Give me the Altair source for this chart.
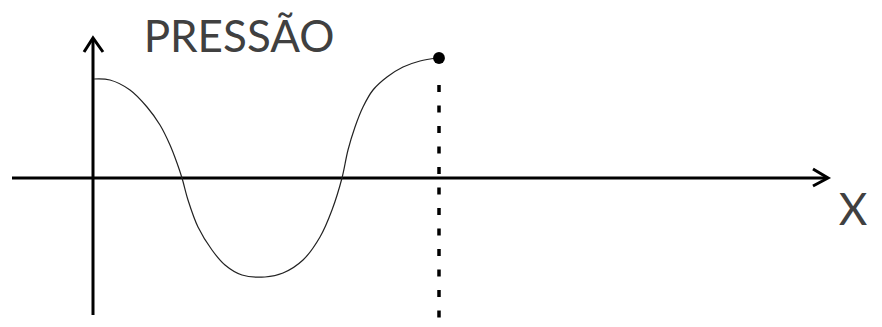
import altair as alt
import pandas as pd

# pressure curve (x: distance from the vertical axis, y: height above the x axis)
curve_x = [1, 17, 37, 54, 67, 77, 84, 89, 95, 105, 119, 132, 149, 172, 190, 210, 227, 239, 249, 255, 262, 270, 280, 294, 310, 327, 344]
curve_y = [99, 98, 88, 71, 53, 33, 15, 0, -22, -49, -72, -87, -97, -99, -95, -82, -59, -32, 0, 28, 51, 71, 88, 101, 111, 117, 120]

# end point of the wave
end_x = [346]
end_y = [120]

# dashed guide below the end point
guide_x = [346, 346]
guide_y = [93, -141]

# axes (with open arrowheads)
axis_group = ["y", "y", "x", "x", "ya", "ya", "ya", "xa", "xa", "xa"]
axis_x = [0, 0, -81, 734, -9, 0, 10, 720, 735, 720]
axis_y = [-137, 139, 0, 0, 126, 140, 126, 9, 0, -8]

# labels
label_text = ["PRESSÃO", "X"]
label_x = [146, 760]
label_y = [126, -47]
label_size = [44, 44]

W, H = 866, 311
xs = alt.Scale(domain=[-85, 781], nice=False, zero=False)
ys = alt.Scale(domain=[-141, 170], nice=False, zero=False)

axes_df = pd.DataFrame({"g": axis_group, "x": axis_x, "y": axis_y, "i": list(range(len(axis_x)))})
curve_df = pd.DataFrame({"x": curve_x, "y": curve_y})
end_df = pd.DataFrame({"x": end_x, "y": end_y})
guide_df = pd.DataFrame({"x": guide_x, "y": guide_y, "i": [0, 1]})
label_df = pd.DataFrame({"t": label_text, "x": label_x, "y": label_y, "s": label_size})

axes = alt.Chart(axes_df).mark_line(color="black", strokeWidth=3, strokeJoin="miter", strokeCap="butt").encode(
    x=alt.X("x:Q", scale=xs, axis=None),
    y=alt.Y("y:Q", scale=ys, axis=None),
    detail="g:N",
    order="i:Q",
)

curve = alt.Chart(curve_df).mark_line(color="#222222", strokeWidth=1.2, interpolate="catmull-rom").encode(
    x=alt.X("x:Q", scale=xs, axis=None),
    y=alt.Y("y:Q", scale=ys, axis=None),
)

guide = alt.Chart(guide_df).mark_line(color="black", strokeWidth=3.5, strokeDash=[7, 13.5]).encode(
    x=alt.X("x:Q", scale=xs, axis=None),
    y=alt.Y("y:Q", scale=ys, axis=None),
    order="i:Q",
)

dot = alt.Chart(end_df).mark_point(filled=True, color="black", size=140, opacity=1, shape="circle").encode(
    x=alt.X("x:Q", scale=xs, axis=None),
    y=alt.Y("y:Q", scale=ys, axis=None),
)

labels = alt.Chart(label_df).mark_text(font="Lato", color="#404040", align="center", baseline="alphabetic").encode(
    x=alt.X("x:Q", scale=xs, axis=None),
    y=alt.Y("y:Q", scale=ys, axis=None),
    text="t:N",
    size=alt.Size("s:Q", scale=None, legend=None),
)

chart = alt.layer(axes, guide, curve, dot, labels).properties(
    width=W, height=H, padding=0, autosize=alt.AutoSizeParams(type="none"), background="white"
).configure_view(stroke=None)

chart.save("out.html", embed_options={"renderer": "svg", "actions": False})
